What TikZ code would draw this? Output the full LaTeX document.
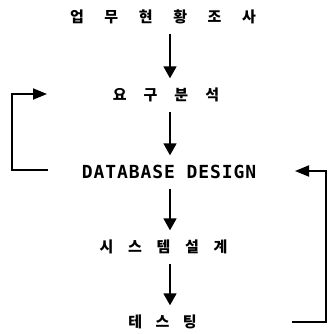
\documentclass[tikz,border=0pt]{standalone}
\usepackage{fontspec}
\newfontfamily\kr{Noto Sans CJK KR}
\newfontfamily\dbfont{DejaVu Sans Mono}[LetterSpace=5]
\usetikzlibrary{arrows.meta}
\tikzset{
  lbl/.style={inner sep=0pt, minimum height=33pt, font=\kr\bfseries\fontsize{15pt}{15pt}\selectfont},
  dblbl/.style={inner sep=0pt, minimum height=33pt, font=\dbfont\bfseries\fontsize{18pt}{18pt}\selectfont},
  arr/.style={line width=1.8pt, -{Triangle[length=12pt,width=13pt]}},
  loop/.style={line width=1.8pt, line join=miter, -{Triangle[length=14pt,width=11pt]}}
}
\begin{document}
\begin{tikzpicture}[x=1pt,y=-1pt]
\useasboundingbox (0,0) rectangle (327,334);
\node[lbl] (t1) at (163,17) {업\hspace{20.6pt}무\hspace{20.6pt}현\hspace{20.6pt}황\hspace{20.6pt}조\hspace{20.6pt}사};
\node[lbl] (t2) at (166,95) {요\hspace{17pt}구\hspace{17pt}분\hspace{17pt}석};
\node[dblbl] (t3) at (169,172) {DATABASE DESIGN};
\node[lbl] (t4) at (163.5,247) {시\hspace{14.7pt}스\hspace{14.7pt}템\hspace{14.7pt}설\hspace{14.7pt}계};
\node[lbl] (t5) at (162.5,322) {테\hspace{13.5pt}스\hspace{13.5pt}팅};
\coordinate (ax) at (170,0);
\draw[arr] (t1.south -| ax) -- (t2.north -| ax);
\draw[arr] (t2.south -| ax) -- (t3.north -| ax);
\draw[arr] (t3.south -| ax) -- (t4.north -| ax);
\draw[arr] (t4.south -| ax) -- (t5.north -| ax);
% left loop: DATABASE DESIGN back to requirements analysis
\coordinate (l1) at (48,170);
\coordinate (l2) at (47,94);
\coordinate (lx) at (12,0);
\draw[loop] (l1) -- (l1 -| lx) |- (l2);
% right loop: testing back to DATABASE DESIGN
\coordinate (r1) at (292,322);
\coordinate (r2) at (295,171);
\coordinate (rx) at (326,0);
\draw[loop] (r1) -| (r2 -| rx) -- (r2);
\end{tikzpicture}
\end{document}
